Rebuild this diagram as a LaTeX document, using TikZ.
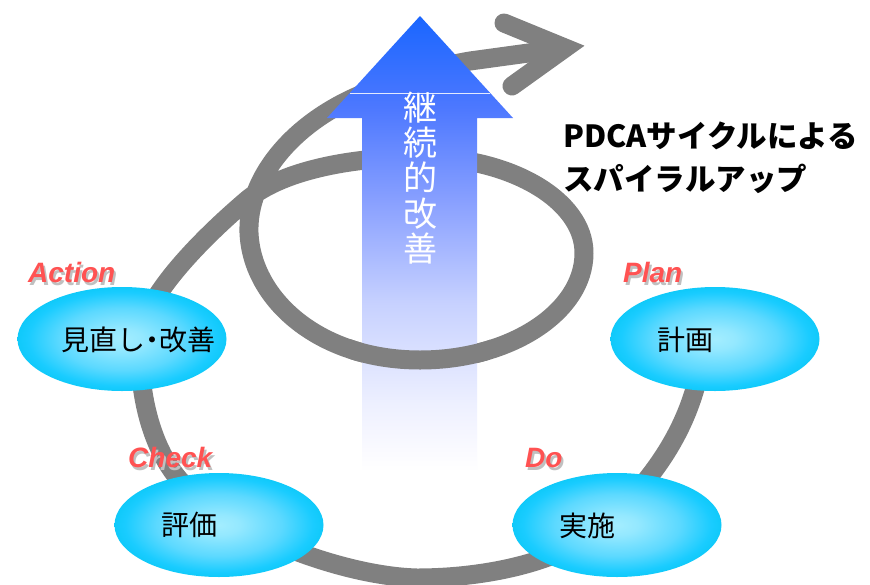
\documentclass[tikz,border=0pt]{standalone}
\usepackage{fontspec}
\newfontfamily\jpfont{Noto Sans CJK JP}
\newfontfamily\labfont{Liberation Sans}
\usetikzlibrary{shapes.geometric}
\definecolor{loopgray}{RGB}{128,128,128}
\definecolor{labred}{RGB}{255,82,82}
\definecolor{labshadow}{RGB}{192,192,192}
\newcommand\shadowtext[1]{\rlap{\kern2pt\raisebox{-3pt}{\textcolor{labshadow}{#1}}}#1}
\pgfdeclareradialshading{ellsh}{\pgfpoint{0bp}{0bp}}{rgb(0bp)=(0.64,0.93,1); rgb(5bp)=(0.58,0.91,1); rgb(15bp)=(0.36,0.85,1); rgb(22.5bp)=(0.1,0.8,1); rgb(25bp)=(0.06,0.79,0.98); rgb(50bp)=(0.06,0.79,0.98)}
\pgfdeclareverticalshading{arrsh}{100bp}{rgb(0bp)=(1,1,1); rgb(25bp)=(1,1,1); rgb(27.5bp)=(0.98,0.98,1); rgb(32.5bp)=(0.93,0.94,1); rgb(43.5bp)=(0.78,0.82,1); rgb(54.5bp)=(0.54,0.63,1); rgb(65bp)=(0.3,0.47,1); rgb(75bp)=(0.1,0.4,1); rgb(100bp)=(0.1,0.4,1)}
\tikzset{
  loopline/.style={draw=loopgray, line width=19pt, line cap=butt, line join=round},
  chevron/.style={draw=loopgray, line width=19pt, line cap=round, line join=miter},
  ell/.style={ellipse, shade, shading=ellsh, minimum width=209pt, minimum height=104pt, inner sep=0pt},
  etext/.style={font=\jpfont\fontsize{28}{30}\selectfont, text=black, inner sep=0pt},
  lab/.style={font=\labfont\bfseries\itshape\fontsize{28}{30}\selectfont, text=labred, inner sep=0pt, anchor=base west},
  titletext/.style={font=\jpfont\bfseries\fontsize{30.5}{36}\selectfont, text=black, inner sep=0pt, anchor=base west},
  vtext/.style={font=\jpfont\fontsize{34}{35.4}\selectfont, text=white, align=center, inner sep=0pt}
}
\begin{document}
\begin{tikzpicture}[x=1pt,y=-1pt]
\useasboundingbox (0,0) rectangle (870,584);
\fill[white] (0,0) rectangle (870,584);
\clip (0,0) rectangle (870,584);
% spiral
\def\spiralpath{(705,330) .. controls (700,410) and (665,465) .. (615,515)
  .. controls (575,560) and (490,578) .. (417,578)
  .. controls (340,576) and (220,530) .. (177,477)
  .. controls (152,446) and (138,395) .. (140,340)
  .. controls (141,300) and (200,240) .. (247,200)
  .. controls (285,168) and (360,157) .. (420,157)
  .. controls (510,157) and (584,200) .. (584,253)
  .. controls (584,312) and (510,360) .. (420,360)
  .. controls (320,360) and (252,300) .. (249,233)
  .. controls (247,180) and (290,125) .. (360,95)
  .. controls (400,78) and (440,66) .. (470,61)
  -- (565,48)}
\draw[loopline] \spiralpath;
\coordinate (armA) at (504,23);
\coordinate (tipV) at (565,48);
\coordinate (armB) at (512,86);
\draw[chevron] (armA) -- (tipV) -- (armB);
% big arrow
\path[shade, shading=arrsh] (362,472) -- (362,118) -- (327,118) -- (420,16) -- (513,118) -- (477,118) -- (477,472) -- cycle;
\draw[white, line width=0.7pt, opacity=0.85] (350,93) -- (490,93);
% loop bottom passes in front of arrow
\begin{scope}
\clip (350,300) rectangle (490,400);
\draw[loopline] \spiralpath;
\end{scope}
\node[vtext] (kaizen) at (420,178) {継\\続\\的\\改\\善};
% ellipses
\node[ell] (act) at (122,339) {};
\node[ell] (plan) at (715,339) {};
\node[ell] (chk) at (219,525) {};
\node[ell] (do) at (617,525) {};
\node[etext] (actt) at (138,340) {見直し\kern-0.25em・\kern-0.25em改善};
\node[etext] (plant) at (685,340) {計画};
\node[etext] (chkt) at (189,525) {評価};
\node[etext] (dot) at (587,526) {実施};
% labels
\node[lab] (actlab) at (28,282) {\shadowtext{Action}};
\node[lab] (planlab) at (623,282) {\shadowtext{Plan}};
\node[lab] (chklab) at (128,467) {\shadowtext{Check}};
\node[lab] (dolab) at (525,467) {\shadowtext{Do}};
% title
\node[titletext] (t1) at (563,147) {PDCAサイクルによる};
\node[titletext] (t2) at (563,190) {スパイラルアップ};
\end{tikzpicture}
\end{document}
